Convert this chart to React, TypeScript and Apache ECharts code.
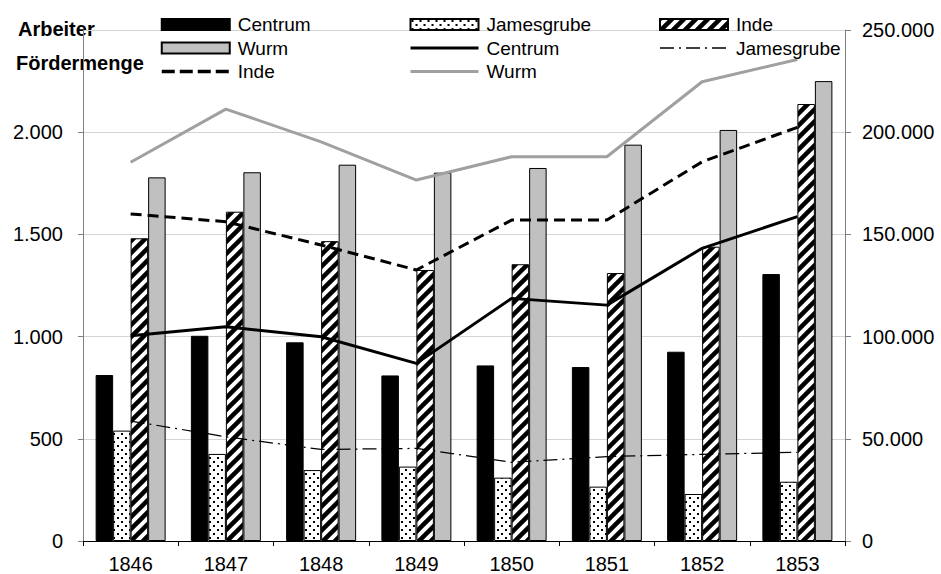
import React, { useEffect, useRef } from 'react';
import * as echarts from 'echarts';

const years = ['1846', '1847', '1848', '1849', '1850', '1851', '1852', '1853'];

// Arbeiter (left axis)
const arbeiterCentrum = [812, 1004, 972, 810, 859, 851, 926, 1306];
const arbeiterJamesgrube = [540, 426, 347, 364, 310, 266, 230, 290];
const arbeiterInde = [1481, 1611, 1467, 1326, 1354, 1311, 1440, 2138];
const arbeiterWurm = [1779, 1804, 1841, 1802, 1825, 1939, 2011, 2250];

// Fördermenge (right axis)
const foerderCentrum = [100400, 104800, 99900, 86900, 118700, 115400, 143200, 158700];
const foerderJamesgrube = [58700, 51000, 44800, 45300, 38500, 41300, 42400, 43400];
const foerderInde = [160000, 156200, 144800, 132600, 157000, 157000, 185500, 202400];
const foerderWurm = [185300, 211300, 195300, 176600, 188000, 188000, 224700, 235600];

const leftTicks = { min: 0, max: 2500, interval: 500 };
const rightTicks = { min: 0, max: 250000, interval: 50000 };

const FONT = '"Liberation Sans", Arial, Helvetica, sans-serif';

function fmt(v: number): string {
  return String(v).replace(/\B(?=(\d{3})+(?!\d))/g, '.');
}

function makeDots(): HTMLCanvasElement {
  const c = document.createElement('canvas');
  c.width = 8;
  c.height = 8;
  const g = c.getContext('2d')!;
  g.fillStyle = '#ffffff';
  g.fillRect(0, 0, 8, 8);
  g.fillStyle = '#000000';
  g.fillRect(1, 1, 2, 2);
  g.fillRect(5, 5, 2, 2);
  return c;
}

function makeHatch(): HTMLCanvasElement {
  const s = 12;
  const c = document.createElement('canvas');
  c.width = s;
  c.height = s;
  const g = c.getContext('2d')!;
  g.fillStyle = '#ffffff';
  g.fillRect(0, 0, s, s);
  g.strokeStyle = '#000000';
  g.lineWidth = 4.5;
  for (const c0 of [0, s, 2 * s]) {
    g.beginPath();
    g.moveTo(c0 + 4, -4);
    g.lineTo(-4, c0 + 4);
    g.stroke();
  }
  return c;
}

const noSymbol = { color: 'rgba(0,0,0,0)', borderWidth: 0, opacity: 0 };

export default function App() {
  const ref = useRef<HTMLDivElement>(null);

  useEffect(() => {
    document.body.style.margin = '0';
    document.body.style.overflow = 'hidden';
    if (!ref.current) return;
    const chart = echarts.init(ref.current, undefined, { renderer: 'svg' });
    const dots = { image: makeDots(), repeat: 'repeat' };
    const hatch = { image: makeHatch(), repeat: 'repeat' };

    const legendBase = {
      orient: 'vertical',
      top: 15,
      padding: 0,
      itemWidth: 68,
      itemHeight: 11,
      itemGap: 4.5,
      selectedMode: false,
      formatter: (name: string) => name.split('|')[0],
      textStyle: { fontSize: 19, color: '#000', fontFamily: FONT, padding: [0, 0, 0, 3] },
    };

    const option: any = {
      animation: false,
      textStyle: { fontFamily: FONT },
      grid: { left: 83, right: 96, top: 30, bottom: 33, containLabel: false },
      legend: [
        {
          ...legendBase,
          left: 160,
          data: [
            { name: 'Centrum|A', icon: 'rect' },
            { name: 'Wurm|A', icon: 'rect' },
            { name: 'Inde|F', itemStyle: noSymbol, lineStyle: { width: 3.5, type: [13, 5] } },
          ],
        },
        {
          ...legendBase,
          left: 409,
          data: [
            { name: 'Jamesgrube|A', icon: 'rect' },
            { name: 'Centrum|F', itemStyle: noSymbol, lineStyle: { width: 3 } },
            { name: 'Wurm|F', itemStyle: noSymbol, lineStyle: { width: 3 } },
          ],
        },
        {
          ...legendBase,
          left: 659,
          data: [
            { name: 'Inde|A', icon: 'rect' },
            { name: 'Jamesgrube|F', itemStyle: noSymbol, lineStyle: { width: 1.5 } },
          ],
        },
      ],
      graphic: [
        {
          type: 'text',
          left: 18,
          top: 19,
          style: { text: 'Arbeiter', font: 'bold 20px ' + FONT, fill: '#000' },
        },
        {
          type: 'text',
          left: 16,
          top: 53,
          style: { text: 'Fördermenge', font: 'bold 20px ' + FONT, fill: '#000' },
        },
      ],
      xAxis: {
        type: 'category',
        data: years,
        boundaryGap: true,
        axisLine: { lineStyle: { color: '#000', width: 1 } },
        axisTick: { show: true, length: 5, lineStyle: { color: '#000' } },
        axisLabel: { fontSize: 20, color: '#000', margin: 13 },
      },
      yAxis: [
        {
          type: 'value',
          ...leftTicks,
          position: 'left',
          axisLine: { show: true, lineStyle: { color: '#808080' } },
          axisTick: { show: true, length: 5, lineStyle: { color: '#808080' } },
          axisLabel: { formatter: fmt, fontSize: 20, color: '#000', margin: 20, showMaxLabel: false },
          splitLine: { show: true, lineStyle: { color: '#d4d4d4', width: 1 } },
        },
        {
          type: 'value',
          ...rightTicks,
          position: 'right',
          axisLine: { show: true, lineStyle: { color: '#808080' } },
          axisTick: { show: true, length: 6, lineStyle: { color: '#808080' } },
          axisLabel: { formatter: fmt, fontSize: 20, color: '#000', margin: 17 },
          splitLine: { show: false },
        },
      ],
      series: [
        {
          name: 'Centrum|A',
          type: 'bar',
          data: arbeiterCentrum,
          barWidth: 17.5,
          barGap: '0%',
          itemStyle: { color: '#000', borderColor: '#000', borderWidth: 1 },
        },
        {
          name: 'Jamesgrube|A',
          type: 'bar',
          data: arbeiterJamesgrube,
          barWidth: 17.5,
          barGap: '0%',
          itemStyle: { color: dots, borderColor: '#000', borderWidth: 1 },
        },
        {
          name: 'Inde|A',
          type: 'bar',
          data: arbeiterInde,
          barWidth: 17.5,
          barGap: '0%',
          itemStyle: { color: hatch, borderColor: '#000', borderWidth: 1 },
        },
        {
          name: 'Wurm|A',
          type: 'bar',
          data: arbeiterWurm,
          barWidth: 17.5,
          barGap: '0%',
          itemStyle: { color: '#c0c0c0', borderColor: '#000', borderWidth: 1 },
        },
        {
          name: 'Centrum|F',
          type: 'line',
          yAxisIndex: 1,
          data: foerderCentrum,
          symbol: 'none',
          lineStyle: { color: '#000', width: 3 },
          itemStyle: { color: '#000' },
        },
        {
          name: 'Jamesgrube|F',
          type: 'line',
          yAxisIndex: 1,
          data: foerderJamesgrube,
          symbol: 'none',
          lineStyle: { color: '#000', width: 1.25, type: [14, 5, 2, 5] },
          itemStyle: { color: '#000' },
        },
        {
          name: 'Inde|F',
          type: 'line',
          yAxisIndex: 1,
          data: foerderInde,
          symbol: 'none',
          lineStyle: { color: '#000', width: 3, type: [11, 6] },
          itemStyle: { color: '#000' },
        },
        {
          name: 'Wurm|F',
          type: 'line',
          yAxisIndex: 1,
          data: foerderWurm,
          symbol: 'none',
          lineStyle: { color: '#a0a0a0', width: 3 },
          itemStyle: { color: '#a0a0a0' },
        },
      ],
    };

    chart.setOption(option);
    return () => chart.dispose();
  }, []);

  return (
    <div
      ref={ref}
      style={{ position: 'absolute', left: 0, top: 0, width: 941, height: 574 }}
    />
  );
}
